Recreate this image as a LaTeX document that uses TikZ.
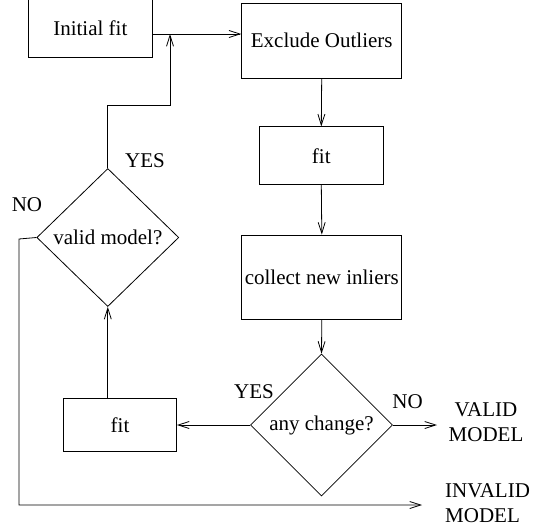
\documentclass[tikz,border=0pt]{standalone}
\usepackage{fontspec}
\setmainfont{Liberation Serif}
\usetikzlibrary{shapes.geometric,arrows.meta}
\begin{document}
\begin{tikzpicture}[x=1pt,y=-1pt,
  every node/.style={font=\fontsize{21}{25}\selectfont},
  box/.style={draw, line width=0.8pt, inner sep=0pt},
  dia/.style={draw, diamond, inner sep=0pt, line width=0.8pt},
  lbl/.style={inner sep=0pt},
  flow/.style={line width=0.8pt, -{Straight Barb[length=11pt,width=7pt]}},
  plain/.style={line width=0.8pt}]
\useasboundingbox (0,0) rectangle (535,531);
\clip (0,0) rectangle (535,531);
% boxes
\node[box, minimum width=124pt, minimum height=58pt] (init) at (90.3,28) {Initial fit};
\node[box, minimum width=160pt, minimum height=74.5pt] (excl) at (321.7,40.7) {Exclude Outliers};
\node[box, minimum width=124pt, minimum height=58pt] (fitm) at (321.3,155.8) {fit};
\node[box, minimum width=160pt, minimum height=84pt] (coll) at (321.8,277) {collect new inliers};
\node[dia, minimum width=142pt, minimum height=142pt] (any) at (321.5,425) {any change?};
\node[dia, minimum width=142pt, minimum height=138pt] (valid) at (107.8,237.5) {valid model?};
\node[box, minimum width=113pt, minimum height=53pt] (fitb) at (120,425) {fit};
% coordinates
\coordinate (j) at (170,34);
\coordinate (c1) at (170,105);
\coordinate (vm) at (437,425);
\coordinate (n1) at (19,239);
\coordinate (im) at (422,505);
% connectors
\draw[plain] (init.east |- j) -- (j);
\draw[flow] (j) -- (excl.west |- j);
\draw[flow] (valid.north) |- (c1) -- (j);
\draw[flow] (excl.south) -- (fitm.north);
\draw[flow] (fitm.south) -- (coll.north);
\draw[flow] (coll.south) -- (any.north);
\draw[flow] (any.west) -- (fitb.east);
\draw[flow] (valid.south |- fitb.north) -- (valid.south);
\draw[flow] (any.east) -- (vm);
\draw[flow] (valid.west) -- (n1) |- (im);
% labels
\node[lbl] (yes1) at (145,161) {YES};
\node[lbl] (no1) at (27,205) {NO};
\node[lbl] (yes2) at (254,392) {YES};
\node[lbl] (no2) at (407.5,402) {NO};
\node[lbl, align=center] (valm) at (486,422) {VALID\\MODEL};
\node[lbl, align=left, anchor=west] (invm) at (445,503) {INVALID\\MODEL};
\end{tikzpicture}
\end{document}
